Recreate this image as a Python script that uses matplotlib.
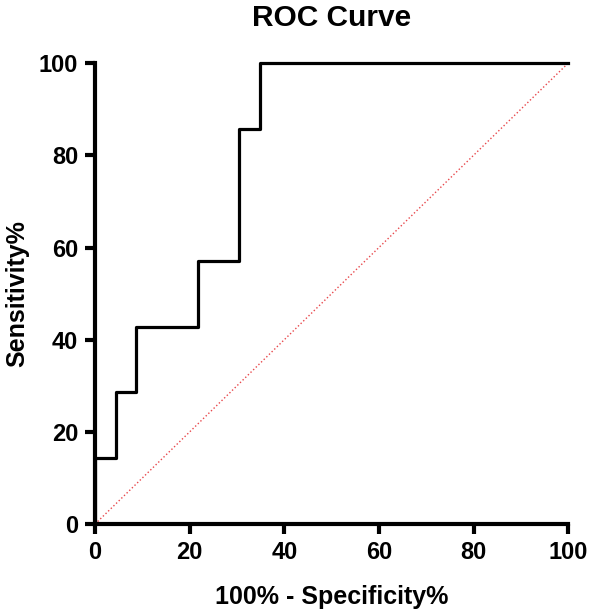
import matplotlib
matplotlib.use("Agg")
import matplotlib.pyplot as plt

plt.rcParams['font.family'] = ['Liberation Sans', 'DejaVu Sans']

# ROC points (100% - specificity, sensitivity)
fpr = [0, 0, 4.35, 4.35, 8.70, 8.70, 21.74, 21.74, 30.43, 30.43, 34.78, 34.78, 100]
tpr = [0, 14.29, 14.29, 28.57, 28.57, 42.86, 42.86, 57.14, 57.14, 85.71, 85.71, 100, 100]
diag = [0, 100]
ticks = [0, 20, 40, 60, 80, 100]

fig = plt.figure(figsize=(5.90, 6.13), dpi=100)
ax = fig.add_axes([0.161, 0.145, 0.802, 0.752])

ax.plot(diag, diag, color='#e8474b', linestyle=':', linewidth=1.0, zorder=1)
ax.plot(fpr, tpr, color='black', linewidth=2.3, zorder=3, clip_on=False)

ax.set_xlim(0, 100)
ax.set_ylim(0, 100)
ax.set_xticks(ticks)
ax.set_yticks(ticks)
ax.tick_params(width=3.0, length=7, labelsize=17, pad=5)
for lab in ax.get_xticklabels() + ax.get_yticklabels():
    lab.set_fontweight('bold')

for s in ['top', 'right']:
    ax.spines[s].set_visible(False)
for s in ['left', 'bottom']:
    ax.spines[s].set_linewidth(3.0)

ax.set_title('ROC Curve', fontsize=21.5, fontweight='bold', pad=27)
ax.set_xlabel('100% - Specificity%', fontsize=18, fontweight='bold', labelpad=15)
ax.set_ylabel('Sensitivity%', fontsize=18, fontweight='bold', labelpad=7)

fig.savefig('out.png', dpi=100)
